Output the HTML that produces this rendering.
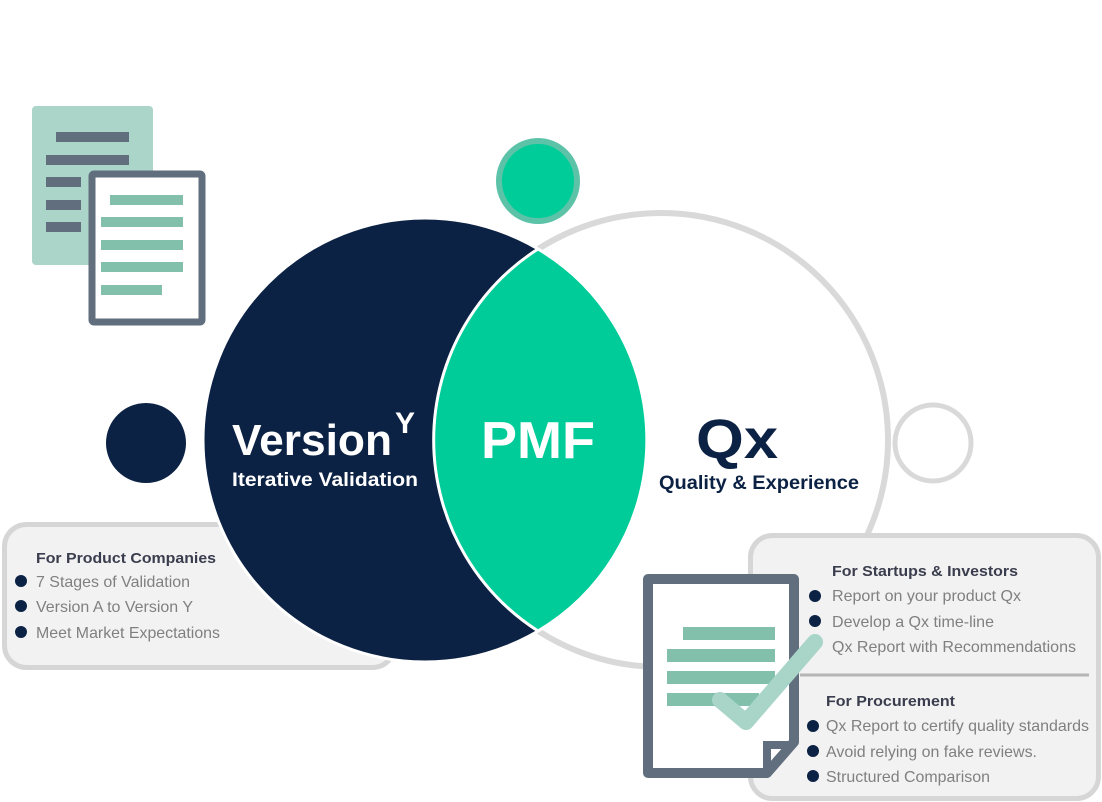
<!DOCTYPE html>
<html><head><meta charset="utf-8"><style>
html,body{margin:0;padding:0;background:#fff;}
svg{display:block;font-family:"Liberation Sans",Arial,sans-serif;}
</style></head><body>
<svg width="1102" height="802" viewBox="0 0 1102 802" xmlns="http://www.w3.org/2000/svg">
<rect x="32" y="106" width="121" height="159" rx="4" fill="#abd5c9"/>
<g fill="#616e7e">
<rect x="56" y="132" width="73" height="10"/>
<rect x="46" y="155" width="83" height="10"/>
<rect x="46" y="177" width="35" height="10"/>
<rect x="46" y="200" width="35" height="10"/>
<rect x="46" y="222" width="35" height="10"/>
</g>
<rect x="92" y="174" width="110" height="148" rx="2" fill="#fff" stroke="#616e7e" stroke-width="7"/>
<g fill="#82c0ab">
<rect x="110" y="195" width="73" height="10"/>
<rect x="101" y="217" width="82" height="10"/>
<rect x="101" y="240" width="82" height="10"/>
<rect x="101" y="262" width="82" height="10"/>
<rect x="101" y="285" width="61" height="10"/>
</g>
<ellipse cx="538" cy="181" rx="39" ry="40" fill="#00cc99" stroke="#5cc2a8" stroke-width="6"/>
<rect x="4.5" y="524.5" width="390" height="143" rx="22" fill="#f2f2f2" stroke="#d6d6d6" stroke-width="5"/>
<circle cx="661" cy="440" r="227" fill="#fff" stroke="#d9d9d9" stroke-width="6"/>
<circle cx="425" cy="440" r="222" fill="#0c2244" stroke="#fff" stroke-width="3"/>
<path d="M538,249 A222,222 0 0 1 538,631 A227,227 0 0 1 538,249 Z" fill="#00cc99" stroke="#fff" stroke-width="3"/>
<circle cx="146" cy="443" r="40" fill="#0c2244"/>
<circle cx="933" cy="443" r="38" fill="#fff" stroke="#d9d9d9" stroke-width="5"/>
<text x="232" y="455" font-size="44" font-weight="bold" fill="#fff" textLength="160" lengthAdjust="spacingAndGlyphs">Version</text>
<text x="395" y="433" font-size="30" font-weight="bold" fill="#fff">Y</text>
<text x="232" y="486" font-size="19" font-weight="bold" fill="#fff" textLength="186" lengthAdjust="spacingAndGlyphs">Iterative Validation</text>
<text x="481" y="458" font-size="52" font-weight="bold" fill="#fff" textLength="114" lengthAdjust="spacingAndGlyphs">PMF</text>
<text x="696" y="458" font-size="56" font-weight="bold" fill="#0c2244" textLength="82" lengthAdjust="spacingAndGlyphs">Qx</text>
<text x="659" y="489" font-size="19" font-weight="bold" fill="#0c2244" textLength="200" lengthAdjust="spacingAndGlyphs">Quality &amp; Experience</text>
<text x="36" y="563" font-size="15" font-weight="bold" fill="#3a3d4d" textLength="180" lengthAdjust="spacingAndGlyphs">For Product Companies</text>
<g fill="#0c2244"><circle cx="21" cy="581" r="6"/><circle cx="21" cy="606" r="6"/><circle cx="21" cy="632" r="6"/></g>
<g font-size="15.8" fill="#808080">
<text x="36" y="587" textLength="154" lengthAdjust="spacingAndGlyphs">7 Stages of Validation</text>
<text x="36" y="612" textLength="157" lengthAdjust="spacingAndGlyphs">Version A to Version Y</text>
<text x="36" y="638" textLength="184" lengthAdjust="spacingAndGlyphs">Meet Market Expectations</text>
</g>
<rect x="750.5" y="535.5" width="348" height="263" rx="22" fill="#f2f2f2" stroke="#d6d6d6" stroke-width="5"/>
<line x1="800" y1="675" x2="1089" y2="675" stroke="#b5b5b5" stroke-width="3"/>
<text x="832" y="576" font-size="15" font-weight="bold" fill="#3a3d4d" textLength="186" lengthAdjust="spacingAndGlyphs">For Startups &amp; Investors</text>
<text x="826" y="706" font-size="15" font-weight="bold" fill="#3a3d4d" textLength="129" lengthAdjust="spacingAndGlyphs">For Procurement</text>
<g fill="#0c2244">
<circle cx="815" cy="596" r="6"/><circle cx="815" cy="621" r="6"/>
<circle cx="813" cy="726" r="6"/><circle cx="813" cy="751" r="6"/><circle cx="813" cy="776" r="6"/>
</g>
<g font-size="15.8" fill="#808080">
<text x="832" y="601" textLength="189" lengthAdjust="spacingAndGlyphs">Report on your product Qx</text>
<text x="832" y="627" textLength="162" lengthAdjust="spacingAndGlyphs">Develop a Qx time-line</text>
<text x="832" y="652" textLength="244" lengthAdjust="spacingAndGlyphs">Qx Report with Recommendations</text>
<text x="826" y="731" textLength="263" lengthAdjust="spacingAndGlyphs">Qx Report to certify quality standards</text>
<text x="826" y="757" textLength="211" lengthAdjust="spacingAndGlyphs">Avoid relying on fake reviews.</text>
<text x="826" y="782" textLength="164" lengthAdjust="spacingAndGlyphs">Structured Comparison</text>
</g>
<path d="M648,579 H794 V742 L767,773 H648 Z" fill="#fff" stroke="#616e7e" stroke-width="10" stroke-linejoin="round"/>
<path d="M767,773 V745 H794" fill="none" stroke="#616e7e" stroke-width="8"/>
<g fill="#82c0ab">
<rect x="683" y="627" width="92" height="13"/>
<rect x="667" y="649" width="108" height="13"/>
<rect x="667" y="671" width="108" height="13"/>
<rect x="667" y="693" width="92" height="13"/>
</g>
<path d="M720,700 L746,722 L815,642" fill="none" stroke="#a8d5c8" stroke-width="16" stroke-linecap="round" stroke-linejoin="round"/>
</svg>
</body></html>
